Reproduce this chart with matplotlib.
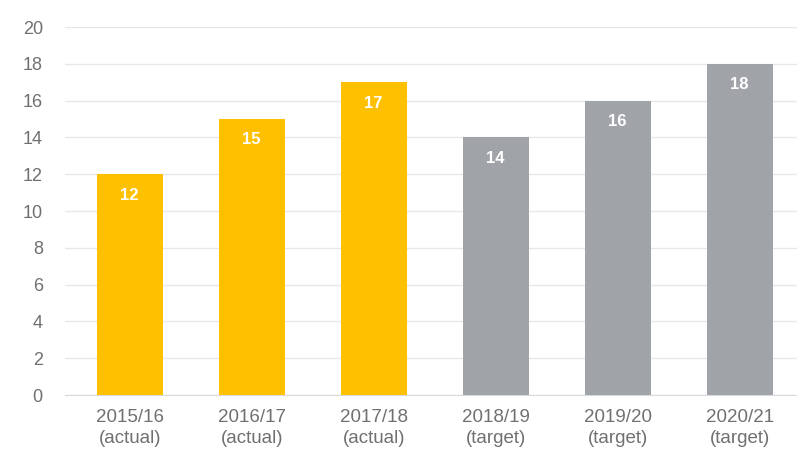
import matplotlib.pyplot as plt

plt.rcParams["font.family"] = ["Liberation Sans", "DejaVu Sans"]

years = ["2015/16", "2016/17", "2017/18", "2018/19", "2019/20", "2020/21"]
kinds = ["actual", "actual", "actual", "target", "target", "target"]
values = [12, 15, 17, 14, 16, 18]

colors = {"actual": "#FFC000", "target": "#A0A3A8"}

fig = plt.figure(figsize=(7.97, 4.59), dpi=100)
ax = fig.add_axes([0.0816, 0.1394, 0.9184, 0.8016])

x = list(range(len(values)))
bars = ax.bar(x, values, width=0.54, color=[colors[k] for k in kinds], zorder=3)

for bar, v in zip(bars, values):
    ax.text(bar.get_x() + bar.get_width() / 2, v - 0.72, str(v),
            ha="center", va="top", color="white", fontsize=12, fontweight="bold", zorder=4)

ax.set_xlim(-0.53, 5.47)
ax.set_ylim(0, 20)
ax.set_yticks(range(0, 21, 2))
ax.set_xticks(x)
ax.set_xticklabels([f"{y}\n({k})" for y, k in zip(years, kinds)])

ax.grid(axis="y", color="#E8E8E8", linewidth=1, zorder=0)
for s in ["top", "right", "left"]:
    ax.spines[s].set_visible(False)
ax.spines["bottom"].set_color("#D9D9D9")
ax.tick_params(axis="both", length=0, colors="#707070")
ax.tick_params(axis="y", labelsize=13, pad=16)
ax.tick_params(axis="x", labelsize=13.5, pad=10)
for lbl in ax.get_xticklabels():
    lbl.set_linespacing(1.35)

fig.savefig("out.png", dpi=100)
